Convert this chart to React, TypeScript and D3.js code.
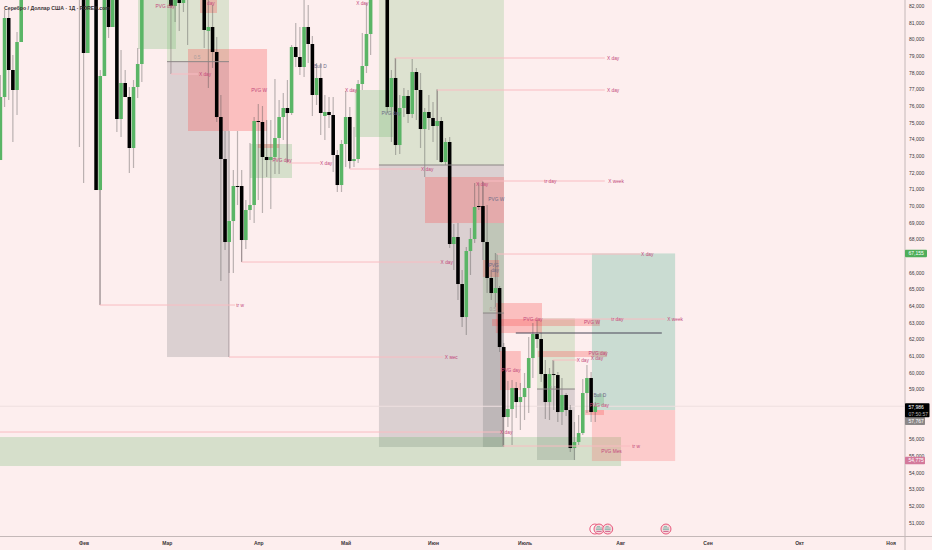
import { useEffect, useRef } from "react";
import * as d3 from "d3";

const WIDTH = 932;
const HEIGHT = 550;
const AXIS_X = 905;
const AXIS_Y = 536.5;

const COLOR_BG = "#fdeeee";
const COLOR_AXIS = "#c4b8b8";
const COLOR_TEXT = "#3a3436";
const COLOR_UP = "#5ab566";
const COLOR_DOWN = "#000000";
const COLOR_WICK = "rgba(80,80,80,0.38)";
const COLOR_LINE = "#f9bcc2";
const COLOR_LABEL = "#c4497c";

const TITLE = "Серебро / Доллар США · 1Д · FOREX.com";

// price ticks, in thousands; the ones under a price tag are not shown
const priceTicks = [51, 52, 53, 54, 55, 56, 59, 60, 61, 62, 63, 64, 65, 66, 68, 69, 70, 71, 72, 73, 74, 75, 76, 77, 78, 79, 80, 81, 82];

// month labels and the trading day they fall on
const monthNames = ["Фев", "Мар", "Апр", "Май", "Июн", "Июль", "Авг", "Сен", "Окт", "Ноя"];
const monthDays = [20, 40, 62, 83, 104, 126, 149, 170, 192, 214];

// daily candles; days missing here are above the visible range
const dayIndex = [
  0, 1, 2, 3, 4, 5,
  19, 20, 21,
  23, 24, 25, 26, 27, 28, 29, 30, 31, 32, 33, 34,
  41, 42, 43, 44, 45,
  49, 50, 51, 52, 53, 54, 55, 56, 57, 58, 59, 60, 61, 62, 63, 64, 65, 66, 67, 68, 69, 70, 71, 72, 73, 74, 75, 76, 77, 78, 79, 80, 81, 82, 83, 84, 85, 86, 87, 88, 89,
  93, 94, 95, 96, 97, 98, 99, 100, 101, 102, 103, 104, 105, 106, 107, 108, 109, 110, 111, 112, 113, 114, 115, 116, 117, 118, 119, 120, 121, 122, 123, 124, 125, 126, 127, 128, 129, 130, 131, 132, 133, 134, 135, 136, 137, 138, 139, 140, 141, 142, 143,
];
const opens = [
  72.76, 76.54, 81.28, 78.16, 76.96, 79.84,
  84.76, 83.56, 79.18,
  83.56, 70.96, 77.8, 83.56, 80.74, 82.96, 75.22, 77.38, 76.54, 73.48, 77.14, 78.52,
  82.96, 82.0, 82.84, 82.18, 83.56,
  82.96, 80.5, 80.74, 79.24, 75.34, 72.82, 67.84, 69.1, 71.2, 71.2, 67.96, 69.76, 70.06, 75.1, 75.04, 72.94, 72.76, 72.94, 74.08, 75.34, 75.88, 75.58, 79.54, 78.94, 78.34, 80.74, 79.72, 76.66, 77.68, 75.4, 75.64, 75.46, 73.06, 71.26, 73.72, 75.34, 72.7, 72.82, 77.32, 78.4, 80.32,
  82.96, 75.94, 77.68, 73.66, 75.88, 76.6, 75.52, 78.04, 76.96, 74.62, 75.64, 75.28, 74.8, 75.1, 72.64, 73.84, 67.72, 68.14, 65.32, 63.34, 67.3, 68.02, 70.0, 70.0, 67.84, 65.68, 64.78, 65.08, 61.54, 57.34, 57.82, 59.08, 58.24, 58.54, 59.08, 60.88, 62.32, 62.02, 59.92, 58.24, 59.92, 59.86, 57.64, 58.66, 57.76, 55.48, 55.84, 56.38, 58.78, 59.68, 57.64,
];
const highs = [
  77.86, 81.76, 81.76, 79.06, 80.44, 83.56,
  85.36, 84.16, 84.16,
  84.16, 78.16, 83.56, 84.16, 84.16, 83.56, 79.36, 78.16, 77.14, 77.56, 79.48, 83.56,
  83.56, 83.26, 83.26, 83.26, 84.16,
  83.56, 82.66, 82.06, 80.14, 76.66, 74.5, 74.5, 72.16, 74.5, 72.16, 70.36, 73.78, 75.34, 76.12, 76.0, 75.16, 75.16, 77.62, 76.36, 76.78, 77.56, 79.66, 80.98, 80.74, 82.36, 82.06, 80.2, 78.58, 78.58, 76.66, 76.54, 76.54, 73.36, 73.96, 76.9, 75.94, 74.74, 77.56, 80.38, 82.18, 83.56,
  83.56, 78.16, 78.88, 76.66, 77.08, 76.96, 78.82, 78.28, 77.98, 75.88, 76.66, 76.24, 77.02, 75.34, 74.08, 74.14, 68.92, 68.98, 66.16, 67.54, 68.68, 71.38, 71.38, 71.44, 70.06, 66.16, 67.18, 65.2, 61.78, 59.5, 59.56, 59.44, 59.38, 59.98, 62.14, 62.98, 63.16, 62.38, 60.76, 60.28, 60.76, 60.04, 59.68, 58.78, 58.06, 57.04, 57.46, 59.62, 60.46, 60.04, 58.24,
];
const lows = [
  72.76, 75.94, 76.36, 73.84, 75.46, 79.84,
  73.54, 71.38, 79.18,
  70.96, 64.06, 77.8, 80.08, 80.74, 74.44, 74.14, 76.54, 71.98, 72.28, 76.48, 77.44,
  82.0, 81.04, 80.5, 81.64, 79.66,
  79.48, 77.08, 78.28, 75.04, 65.5, 67.36, 65.98, 65.98, 70.06, 66.64, 67.42, 69.16, 68.98, 70.36, 69.58, 71.74, 69.82, 71.92, 71.92, 73.96, 72.58, 75.46, 78.34, 77.86, 77.74, 78.58, 75.4, 76.06, 74.26, 73.96, 74.68, 72.04, 70.84, 70.84, 72.34, 72.28, 72.34, 72.58, 76.96, 77.98, 79.06,
  75.58, 73.84, 73.06, 73.12, 75.34, 74.98, 75.28, 75.16, 73.48, 71.74, 74.56, 73.84, 72.76, 72.58, 72.46, 67.48, 66.16, 64.36, 62.74, 62.26, 65.86, 67.78, 69.76, 66.76, 64.78, 64.36, 63.94, 61.24, 55.54, 56.74, 55.66, 57.28, 56.56, 57.16, 57.58, 59.68, 61.48, 59.44, 57.22, 57.16, 57.76, 57.04, 56.86, 57.4, 55.24, 54.76, 55.66, 56.26, 57.58, 57.04, 57.04,
];
const closes = [
  76.54, 81.28, 78.16, 76.96, 79.84, 82.96,
  82.96, 79.18, 83.56,
  70.96, 77.8, 82.96, 80.74, 83.56, 75.22, 77.38, 76.54, 73.48, 77.14, 78.52, 82.96,
  82.0, 82.84, 82.18, 82.84, 82.84,
  80.56, 80.74, 79.24, 75.34, 72.82, 67.84, 69.1, 71.2, 71.14, 67.96, 69.76, 70.06, 75.1, 75.04, 72.94, 72.76, 72.94, 74.08, 75.34, 75.88, 75.58, 79.54, 78.94, 78.34, 80.74, 79.72, 76.66, 77.68, 75.58, 75.64, 75.46, 73.06, 71.26, 73.72, 75.34, 72.7, 72.82, 77.32, 78.4, 80.32, 82.96,
  75.94, 77.68, 73.66, 75.88, 76.6, 75.52, 78.04, 76.96, 74.62, 75.64, 75.28, 74.8, 75.1, 72.64, 73.84, 67.72, 68.14, 65.32, 63.34, 67.3, 68.02, 69.94, 69.94, 67.84, 65.68, 64.78, 65.08, 61.54, 57.34, 57.82, 59.08, 58.24, 58.54, 59.08, 60.88, 62.32, 62.02, 59.92, 58.24, 59.92, 59.86, 57.64, 58.66, 57.76, 55.48, 55.84, 56.38, 58.78, 59.68, 57.64, 57.986,
];

// zones as [fromDay, toDay, topPrice, bottomPrice]
type Zone = [number, number, number, number];
const fvgGreenZones: Zone[] = [
  [33.1, 42.2, 82.6, 79.42],
  [60, 70.1, 73.72, 71.68],
  [85.2, 94.4, 76.96, 74.14],
  [-2, 149.2, 56.14, 54.4],
  [142.9, 145.1, 58.72, 57.94],
];
const rangeGreenZones: Zone[] = [
  [40.05, 54.95, 82.6, 78.66],
  [91, 121.05, 82.6, 72.46],
  [116, 121.05, 68.98, 63.58],
  [129, 138.1, 63.28, 59.02],
];
const rangeGreyZones: Zone[] = [
  [40.05, 54.95, 78.66, 60.94],
  [91, 121.05, 72.46, 55.54],
  [116, 121.05, 63.58, 55.54],
  [129, 138.1, 59.02, 54.76],
];
const fvgRedZones: Zone[] = [
  [45.1, 64.1, 79.42, 74.5],
  [48, 52.07, 82.6, 81.58],
  [61.9, 67, 73.72, 73.48],
  [102.07, 121.05, 71.74, 68.98],
  [116, 119.9, 66.76, 65.74],
  [119.1, 130.2, 64.18, 62.38],
  [120.1, 125.1, 61.3, 58.96],
  [118.2, 144.1, 63.22, 62.8],
  [129.2, 145.8, 61.3, 60.94],
  [140.5, 145.1, 57.76, 57.46],
];
const targetZones: Zone[] = [[142.2, 162.2, 67.155, 57.76]];
const stopZones: Zone[] = [[142.2, 162.2, 57.76, 54.7]];

// midlines of the range boxes as [fromDay, toDay, price]
type Level = [number, number, number];
const midLevels: Level[] = [
  [40.05, 54.95, 78.66],
  [91, 121.05, 72.46],
  [116, 121.05, 63.58],
  [129, 138.1, 59.02],
];
const pinkLevels: Level[] = [
  [23.9, 56.4, 64.06],
  [41, 47.5, 77.92],
  [58, 105.7, 66.64],
  [54.95, 106.4, 60.94],
  [68.9, 76.8, 72.58],
  [84, 101.1, 72.22],
  [94.9, 145.3, 78.88],
  [105, 145.3, 76.96],
  [116, 145.3, 71.5],
  [119.4, 153.8, 67.12],
  [120.8, 151.4, 55.6],
  [132.8, 138.8, 60.76],
  [129.2, 159.8, 63.22],
  [-2, 120.8, 56.44],
];
const keyLevel: Level = [123.9, 159, 62.38];
// legs from a candle up or down to the level, as [day, fromPrice, toPrice]
const legs: Level[] = [
  [23.9, 70.96, 64.06],
  [41, 82.6, 77.92],
  [58, 67.96, 66.64],
  [54.95, 67.84, 60.94],
  [68.9, 75.58, 72.58],
  [84, 72.7, 72.22],
  [94.9, 77.68, 78.88],
  [105, 75.1, 76.96],
  [116, 70, 71.5],
  [119.4, 65.08, 67.12],
  [120.8, 57.34, 55.6],
  [132.8, 59.86, 60.76],
];

// annotation texts as [text, day, price]
type Note = [string, number, number];
const pinkNotes: Note[] = [
  ["PVG day", 39.6, 82],
  ["day", 50.6, 82.16],
  ["X day", 49.2, 77.92],
  ["PVG W", 62.2, 76.96],
  ["PVG day", 67.7, 72.76],
  ["X day", 78.3, 72.58],
  ["X day", 84.3, 76.96],
  ["X day", 87, 82.12],
  ["X day", 102.6, 72.22],
  ["X day", 107.3, 66.64],
  ["X мес", 108.4, 60.94],
  ["tr w", 57.6, 64.06],
  ["X day", 147.3, 78.88],
  ["X day", 147.3, 76.96],
  ["tr day", 132.2, 71.5],
  ["X week", 148, 71.5],
  ["X day", 115.8, 71.32],
  ["X day", 155.5, 67.12],
  ["PVG day", 128, 63.22],
  ["tr day", 148.3, 63.22],
  ["X week", 162.2, 63.22],
  ["PVG W", 142.2, 63],
  ["PVG day", 122.7, 60.16],
  ["X day", 121.6, 56.44],
  ["PVG day", 143.7, 61.18],
  ["X day", 140, 60.76],
  ["X day", 143.4, 60.88],
  ["PVG Mes", 146.9, 55.3],
  ["tr w", 152.8, 55.6],
  ["PVG day", 144, 58.06],
];
const greyNotes: Note[] = [
  ["Bull D", 76.9, 78.4],
  ["PVG day", 93.9, 75.58],
  ["PVG W", 119.2, 70.42],
  ["PVG", 118.6, 66.46],
  ["day", 118.9, 66.16],
  ["Bull D", 144.1, 58.66],
];
const faintNotes: Note[] = [
  ["0.5", 47.3, 78.94],
  ["0.5", 118.4, 63.82],
  ["0.5", 132.8, 59.08],
];

// event markers on the time axis
const eventDays = [142.9, 143.9, 146, 160];
const eventPrice = 50.62;

// price tags on the right axis
const lastPrice = "57,986";
const countdown = "07:50:57";
const bidTag = "57,767";
const targetTag = "67,155";
const stopTag = "54,775";

export default function App() {
  const svgRef = useRef<SVGSVGElement>(null);

  useEffect(() => {
    const svg = d3.select(svgRef.current);
    svg.selectAll("*").remove();

    const x = d3.scaleLinear().domain([0, 214]).range([0.4, 890.6]);
    const y = d3.scaleLinear().domain([82, 51]).range([6, 522.7]);
    const bodyWidth = (x(1) - x(0)) * 0.86;

    svg
      .append("clipPath")
      .attr("id", "pane")
      .append("rect")
      .attr("width", AXIS_X)
      .attr("height", AXIS_Y);

    const pane = svg.append("g").attr("clip-path", "url(#pane)");

    const drawZones = (zones: Zone[], fill: string) => {
      pane
        .append("g")
        .selectAll("rect")
        .data(zones)
        .join("rect")
        .attr("x", (d) => x(d[0]))
        .attr("y", (d) => y(d[2]))
        .attr("width", (d) => x(d[1]) - x(d[0]))
        .attr("height", (d) => y(d[3]) - y(d[2]))
        .attr("fill", fill);
    };

    drawZones(rangeGreenZones, "rgba(80,170,70,0.18)");
    drawZones(rangeGreyZones, "rgba(30,40,50,0.15)");
    drawZones(fvgGreenZones, "rgba(76,175,80,0.22)");
    drawZones(fvgRedZones, "rgba(250,82,82,0.3)");
    drawZones(targetZones, "rgba(0,150,100,0.2)");
    drawZones(stopZones, "rgba(250,82,82,0.22)");

    // last price line
    pane
      .append("line")
      .attr("x1", 0)
      .attr("x2", AXIS_X)
      .attr("y1", y(57.986))
      .attr("y2", y(57.986))
      .attr("stroke", "#eedfdf")
      .attr("stroke-width", 1);

    // candles
    const candles = dayIndex.map((d, i) => ({
      d,
      o: opens[i],
      h: highs[i],
      l: lows[i],
      c: closes[i],
    }));

    pane
      .append("g")
      .selectAll("line")
      .data(candles)
      .join("line")
      .attr("x1", (d) => x(d.d))
      .attr("x2", (d) => x(d.d))
      .attr("y1", (d) => y(d.h))
      .attr("y2", (d) => y(d.l))
      .attr("stroke", COLOR_WICK)
      .attr("stroke-width", 1.2);

    pane
      .append("g")
      .selectAll("rect")
      .data(candles)
      .join("rect")
      .attr("x", (d) => x(d.d) - bodyWidth / 2)
      .attr("y", (d) => y(Math.max(d.o, d.c)))
      .attr("width", bodyWidth)
      .attr("height", (d) => Math.max(1, Math.abs(y(d.o) - y(d.c))))
      .attr("fill", (d) => (d.c >= d.o ? COLOR_UP : COLOR_DOWN));

    // levels and legs
    pane
      .append("g")
      .selectAll("line")
      .data(legs)
      .join("line")
      .attr("x1", (d) => x(d[0]))
      .attr("x2", (d) => x(d[0]))
      .attr("y1", (d) => y(d[1]))
      .attr("y2", (d) => y(d[2]))
      .attr("stroke", "rgba(120,100,105,0.5)")
      .attr("stroke-width", 1);

    pane
      .append("g")
      .selectAll("line")
      .data(pinkLevels)
      .join("line")
      .attr("x1", (d) => x(d[0]))
      .attr("x2", (d) => x(d[1]))
      .attr("y1", (d) => y(d[2]))
      .attr("y2", (d) => y(d[2]))
      .attr("stroke", COLOR_LINE)
      .attr("stroke-width", 1);

    pane
      .append("g")
      .selectAll("line")
      .data(midLevels)
      .join("line")
      .attr("x1", (d) => x(d[0]))
      .attr("x2", (d) => x(d[1]))
      .attr("y1", (d) => y(d[2]))
      .attr("y2", (d) => y(d[2]))
      .attr("stroke", "#8b8585")
      .attr("stroke-width", 1);

    pane
      .append("line")
      .attr("x1", x(keyLevel[0]))
      .attr("x2", x(keyLevel[1]))
      .attr("y1", y(keyLevel[2]))
      .attr("y2", y(keyLevel[2]))
      .attr("stroke", "#4a4658")
      .attr("stroke-width", 1.2);

    const drawNotes = (notes: Note[], fill: string) => {
      pane
        .append("g")
        .selectAll("text")
        .data(notes)
        .join("text")
        .attr("x", (d) => x(d[1]))
        .attr("y", (d) => y(d[2]))
        .attr("text-anchor", "middle")
        .attr("dominant-baseline", "central")
        .attr("font-family", "'Liberation Sans', sans-serif")
        .attr("font-size", "4.8px")
        .attr("fill", fill)
        .text((d) => d[0]);
    };

    drawNotes(pinkNotes, COLOR_LABEL);
    drawNotes(greyNotes, "#6d6a88");
    drawNotes(faintNotes, "#a89c9c");

    // axes
    const yAxis = d3
      .axisRight(y)
      .tickValues(priceTicks)
      .tickSize(0)
      .tickPadding(4)
      .tickFormat((v) => d3.format(",")((v as number) * 1000));
    const yAxisG = svg
      .append("g")
      .attr("transform", `translate(${AXIS_X},0)`)
      .call(yAxis);
    yAxisG.select(".domain").remove();
    yAxisG
      .selectAll(".tick text")
      .attr("font-family", "'Liberation Sans', sans-serif")
      .attr("font-size", "5px")
      .attr("fill", COLOR_TEXT);

    const xAxis = d3
      .axisBottom(x)
      .tickValues(monthDays)
      .tickSize(0)
      .tickPadding(5)
      .tickFormat((_, i) => monthNames[i]);
    const xAxisG = svg
      .append("g")
      .attr("transform", `translate(0,${AXIS_Y})`)
      .call(xAxis);
    xAxisG.select(".domain").remove();
    xAxisG
      .selectAll(".tick text")
      .attr("font-family", "'Liberation Sans', sans-serif")
      .attr("font-size", "5px")
      .attr("font-weight", "bold")
      .attr("fill", COLOR_TEXT);

    svg
      .append("line")
      .attr("x1", 0)
      .attr("x2", WIDTH)
      .attr("y1", AXIS_Y)
      .attr("y2", AXIS_Y)
      .attr("stroke", COLOR_AXIS);
    svg
      .append("line")
      .attr("x1", AXIS_X)
      .attr("x2", AXIS_X)
      .attr("y1", 0)
      .attr("y2", HEIGHT)
      .attr("stroke", COLOR_AXIS);

    // event markers
    const events = svg
      .append("g")
      .selectAll("g")
      .data(eventDays)
      .join("g")
      .attr("transform", (d) => `translate(${x(d)},${y(eventPrice)})`);
    events
      .append("circle")
      .attr("r", 5)
      .attr("fill", (_, i) => (i === 0 ? "#fdf6f6" : "#f8dadd"))
      .attr("stroke", "#e8587c")
      .attr("stroke-width", 1);
    events
      .filter((_, i) => i > 0)
      .append("path")
      .attr("d", "M-3,-1H3M-2,-2.4H1M-3,0.6H3")
      .attr("stroke", "#5fa79a")
      .attr("stroke-width", 0.7)
      .attr("fill", "none");
    events
      .filter((_, i) => i > 0)
      .append("path")
      .attr("d", "M-2.6,2.4H2.6")
      .attr("stroke", "#c4497c")
      .attr("stroke-width", 0.8);

    // price tags
    const tag = (
      price: number,
      tagY: number,
      tagH: number,
      tagW: number,
      fill: string,
    ) => {
      svg
        .append("rect")
        .attr("x", AXIS_X)
        .attr("y", y(price) + tagY)
        .attr("width", tagW)
        .attr("height", tagH)
        .attr("rx", 0.8)
        .attr("fill", fill);
    };
    const tagText = (label: string, price: number, dy: number, fill: string) => {
      svg
        .append("text")
        .attr("x", AXIS_X + 3.5)
        .attr("y", y(price) + dy)
        .attr("dominant-baseline", "central")
        .attr("font-family", "'Liberation Sans', sans-serif")
        .attr("font-size", "5px")
        .attr("fill", fill)
        .text(label);
    };
    tag(67.155, -3.7, 7.4, 22, "#4fae5a");
    tagText(targetTag, 67.155, 0, "#ffffff");
    tag(57.986, 10.8, 8, 20, "#8c8788");
    tagText(bidTag, 57.986, 14.8, "#ffffff");
    tag(57.986, -3, 14, 24.5, "#000000");
    tagText(lastPrice, 57.986, 1, "#ffffff");
    tagText(countdown, 57.986, 7.5, "#b9b2b2");
    tag(54.775, -3, 7.4, 20, "#d4799b");
    tagText(stopTag, 54.775, 0.7, "#ffffff");

    // title
    svg
      .append("text")
      .attr("x", 4)
      .attr("y", 8)
      .attr("dominant-baseline", "central")
      .attr("font-family", "'Liberation Sans', sans-serif")
      .attr("font-size", "5.2px")
      .attr("font-weight", "bold")
      .attr("fill", COLOR_TEXT)
      .text(TITLE);
  }, []);

  return (
    <svg
      ref={svgRef}
      width={WIDTH}
      height={HEIGHT}
      viewBox={`0 0 ${WIDTH} ${HEIGHT}`}
      style={{ position: "absolute", left: 0, top: 0, background: COLOR_BG }}
    />
  );
}
